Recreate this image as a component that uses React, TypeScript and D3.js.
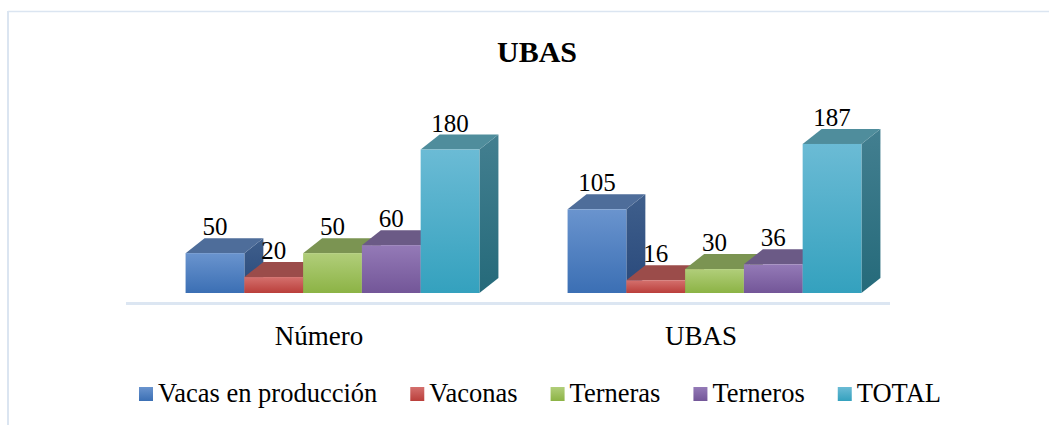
import React, { useRef, useEffect } from "react";
import * as d3 from "d3";

// chart data
const categories = ["Número", "UBAS"];
const seriesNames = ["Vacas en producción", "Vaconas", "Terneras", "Terneros", "TOTAL"];
const numeroValues = [50, 20, 50, 60, 180];
const ubasValues = [105, 16, 30, 36, 187];
const yDomain = [0, 200];

// face colours per series: front top, front bottom, top face, side top, side bottom
const palette = [
  ["#6a94ce", "#3b6fb4", "#4e6d9a", "#3f5f8c", "#29497b"],
  ["#d4706d", "#ba3f3b", "#9b4c4a", "#8a3a38", "#6e2a28"],
  ["#b1ce7a", "#8cb345", "#7b9452", "#6d8a3c", "#56712a"],
  ["#947ab7", "#735698", "#6b5a86", "#5e4a7a", "#4a3766"],
  ["#6bbbd5", "#34a1be", "#4f8d9c", "#437f90", "#256a7a"],
];

const FONT = "Liberation Serif, Times New Roman, serif";

const App = () => {
  const ref = useRef<SVGSVGElement>(null);

  useEffect(() => {
    const svg = d3.select(ref.current);
    svg.selectAll("*").remove();

    const W = 1049;
    const H = 425;
    const floorY = 303;
    const offX = 15.5; // bars sit back from the floor's front edge
    const offY = -10;
    const depthX = 19; // bar depth in projection
    const depthY = -15;

    const table = categories.map((c, i) => ({
      cat: c,
      values: (i === 0 ? numeroValues : ubasValues).map((v, j) => ({ name: seriesNames[j], v, j })),
    }));

    // border of the chart frame
    svg.append("rect").attr("width", W).attr("height", H).attr("fill", "#fff");
    svg.append("line").attr("x1", 8).attr("x2", W).attr("y1", 11.5).attr("y2", 11.5)
      .attr("stroke", "#dbe5f1").attr("stroke-width", 1.5);
    svg.append("line").attr("x1", 8).attr("x2", 8).attr("y1", 11).attr("y2", H)
      .attr("stroke", "#dbe5f1").attr("stroke-width", 2);

    // gradients
    const defs = svg.append("defs");
    palette.forEach((p, i) => {
      const gf = defs.append("linearGradient").attr("id", "front" + i)
        .attr("x1", 0).attr("y1", 0).attr("x2", 0).attr("y2", 1);
      gf.append("stop").attr("offset", "0%").attr("stop-color", p[0]);
      gf.append("stop").attr("offset", "100%").attr("stop-color", p[1]);
      const gs = defs.append("linearGradient").attr("id", "side" + i)
        .attr("x1", 0).attr("y1", 0).attr("x2", 0).attr("y2", 1);
      gs.append("stop").attr("offset", "0%").attr("stop-color", p[3]);
      gs.append("stop").attr("offset", "100%").attr("stop-color", p[4]);
    });

    // title
    svg.append("text").attr("x", 537).attr("y", 62).attr("text-anchor", "middle")
      .attr("font-family", FONT).attr("font-size", 30).attr("font-weight", "bold")
      .text("UBAS");

    // scales
    const x0 = d3.scaleBand().domain(categories).range([126, 890]);
    const x1 = d3.scaleBand().domain(seriesNames).range([0, x0.bandwidth()])
      .paddingInner(0).paddingOuter(0.75);
    const y = d3.scaleLinear().domain(yDomain).range([floorY + offY, floorY + offY - 159.4]);

    // floor edge
    svg.append("rect").attr("x", 126).attr("y", floorY - 1).attr("width", 890 - 126).attr("height", 3)
      .attr("fill", "#dce6f2");

    const bw = x1.bandwidth();
    table.forEach((g) => {
      const grp = svg.append("g");
      g.values.forEach((d) => {
        const xl = x0(g.cat)! + x1(d.name)! + offX;
        const xr = xl + bw;
        const yt = y(d.v);
        const yb = y(0);
        // side
        grp.append("path")
          .attr("d", `M${xr},${yt}L${xr + depthX},${yt + depthY}L${xr + depthX},${yb + depthY}L${xr},${yb}Z`)
          .attr("fill", `url(#side${d.j})`);
        // top
        grp.append("path")
          .attr("d", `M${xl},${yt}L${xr},${yt}L${xr + depthX},${yt + depthY}L${xl + depthX},${yt + depthY}Z`)
          .attr("fill", palette[d.j][2]);
        // front
        grp.append("rect").attr("x", xl).attr("y", yt).attr("width", bw).attr("height", yb - yt)
          .attr("fill", `url(#front${d.j})`);
      });
      // value labels
      g.values.forEach((d) => {
        const xl = x0(g.cat)! + x1(d.name)! + offX;
        svg.append("text").attr("x", xl + bw / 2).attr("y", y(d.v) + depthY - 3)
          .attr("text-anchor", "middle").attr("font-family", FONT).attr("font-size", 25)
          .text(String(d.v));
      });
      // category label
      svg.append("text").attr("x", x0(g.cat)! + x0.bandwidth() / 2 + 2).attr("y", 345)
        .attr("text-anchor", "middle").attr("font-family", FONT).attr("font-size", 27)
        .text(g.cat);
    });

    // legend
    const leg = svg.append("g");
    const gap = 33;
    let cx = 0;
    seriesNames.forEach((s, i) => {
      leg.append("rect").attr("x", cx).attr("y", 387).attr("width", 14).attr("height", 14)
        .attr("fill", `url(#front${i})`);
      const t = leg.append("text").attr("x", cx + 19).attr("y", 401.5)
        .attr("font-family", FONT).attr("font-size", 26.5).text(s);
      const tw = (t.node() as SVGTextElement).getComputedTextLength();
      cx += 19 + tw + gap;
    });
    const legW = cx - gap;
    leg.attr("transform", `translate(${540 - legW / 2},0)`);
  }, []);

  return (
    <svg ref={ref} width={1049} height={425} fontFamily={FONT}
      style={{ position: "absolute", left: 0, top: 0, display: "block" }} />
  );
};

export default App;
